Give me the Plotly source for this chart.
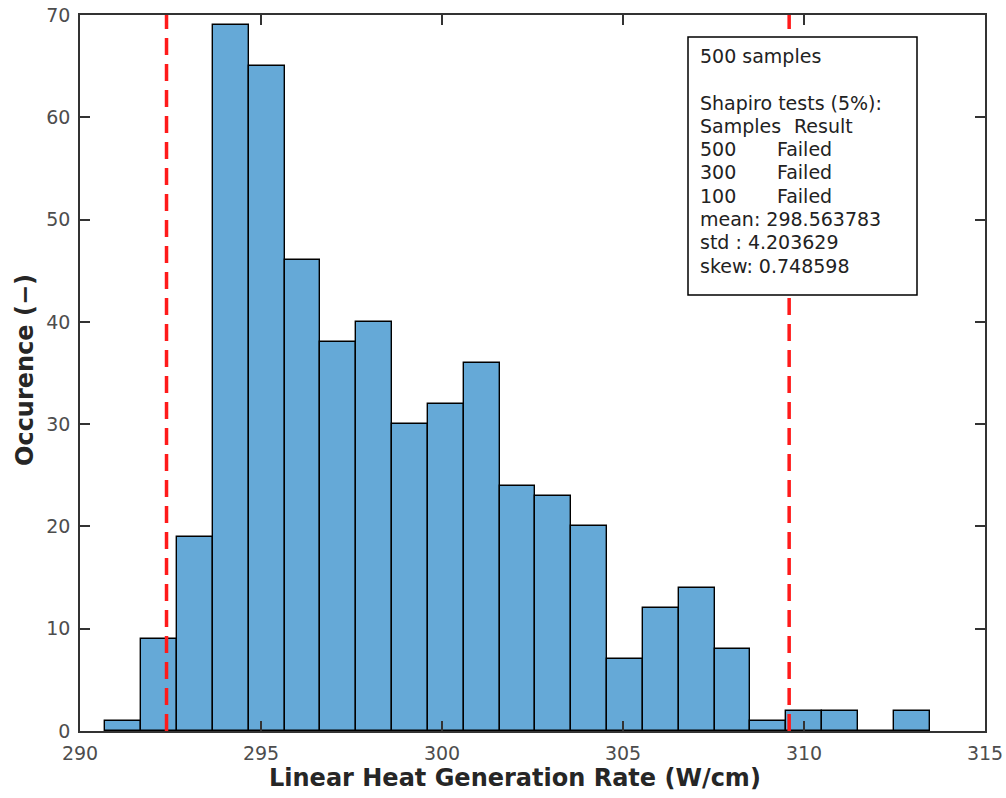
import plotly.graph_objects as go

# ---- data ----
bin_start = 290.70
bin_width = 0.99
counts = [1, 9, 19, 69, 65, 46, 38, 40, 30, 32, 36, 24, 23, 20, 7, 12, 14, 8, 1, 2, 2, 0, 2]
limit_lines = [292.39, 309.59]
x_ticks = [290, 295, 300, 305, 310, 315]
y_ticks = [0, 10, 20, 30, 40, 50, 60, 70]
x_title = "Linear Heat Generation Rate (W/cm)"
y_title = "Occurence (−)"
info_rows = [
    ("500 samples", ""),
    ("", ""),
    ("Shapiro tests (5%):", ""),
    ("Samples", "Result"),
    ("500", "Failed"),
    ("300", "Failed"),
    ("100", "Failed"),
    ("mean: 298.563783", ""),
    ("std : 4.203629", ""),
    ("skew: 0.748598", ""),
]

# ---- layout geometry (pixels in the 1006x798 window) ----
W, H = 1006, 798
PL, PR, PT, PB = 80, 985, 15, 731


def px_x(px):
    return (px - PL) / (PR - PL)


def px_y(py):
    return (PB - py) / (PB - PT)


centers = [bin_start + bin_width * (i + 0.5) for i in range(len(counts))]

fig = go.Figure()
fig.add_trace(go.Bar(
    x=centers, y=counts, width=[bin_width] * len(counts),
    marker=dict(color="#65a9d7", line=dict(color="black", width=1.4)),
    showlegend=False,
))

for xv in limit_lines:
    fig.add_shape(type="line", x0=xv, x1=xv, y0=0, y1=1, xref="x", yref="paper",
                  line=dict(color="#ff1a1a", width=3.5, dash="17px,9px"), layer="above")

# info box
fig.add_shape(type="rect", xref="paper", yref="paper",
              x0=px_x(688), x1=px_x(917), y0=px_y(295), y1=px_y(37),
              line=dict(color="black", width=1.5), fillcolor="white", layer="above")

box_font = dict(family="DejaVu Sans", size=19, color="#222222")
for k, (left, right) in enumerate(info_rows):
    yc = 56 + 23.3 * k
    if left:
        fig.add_annotation(x=px_x(698), y=px_y(yc), xref="paper", yref="paper",
                           xanchor="left", yanchor="middle", text=left,
                           showarrow=False, font=box_font)
    if right:
        rx = 792 if left == "Samples" else 775
        fig.add_annotation(x=px_x(rx), y=px_y(yc), xref="paper", yref="paper",
                           xanchor="left", yanchor="middle", text=right,
                           showarrow=False, font=box_font)

title_font = dict(family="DejaVu Sans", size=24, color="#262626")
fig.add_annotation(x=px_x(515), y=px_y(778), xref="paper", yref="paper",
                   xanchor="center", yanchor="middle", text="<b>" + x_title + "</b>",
                   showarrow=False, font=title_font)
fig.add_annotation(x=px_x(25), y=px_y(370), xref="paper", yref="paper",
                   xanchor="center", yanchor="middle", text="<b>" + y_title + "</b>",
                   textangle=-90, showarrow=False, font=title_font)

axis_common = dict(
    showline=True, linecolor="#333333", linewidth=1.5, mirror="ticks",
    ticks="inside", ticklen=10, tickcolor="#333333", tickwidth=1.5,
    showgrid=False, zeroline=False, automargin=False,
    ticklabeloverflow="allow",
    tickfont=dict(family="DejaVu Sans", size=19, color="#4d4d4d"),
)

fig.update_xaxes(range=[290, 315], tickvals=x_ticks, ticktext=[str(v) for v in x_ticks],
                 ticklabelstandoff=4, **axis_common)
fig.update_yaxes(range=[0, 70], tickvals=y_ticks, ticktext=[str(v) for v in y_ticks],
                 ticklabelstandoff=4, **axis_common)

fig.update_layout(
    width=W, height=H,
    margin=dict(l=PL, r=W - PR, t=PT, b=H - PB, autoexpand=False),
    plot_bgcolor="white", paper_bgcolor="white",
    bargap=0,
)

fig.write_html("out.html", config={"displayModeBar": False},
               post_script="document.body.style.margin='0px';")
